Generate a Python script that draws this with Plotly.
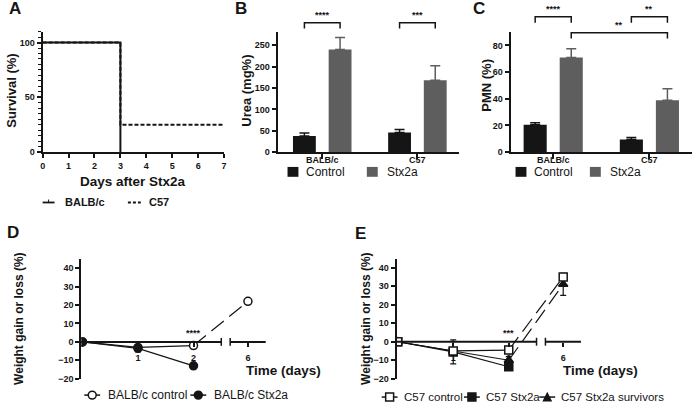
import plotly.graph_objects as go

W, H = 696, 408
FONT = "Liberation Sans"
INK = "#151515"
GRAY = "#5e5e5e"

# ---------------- data ----------------
# A: survival after Stx2a
surv_balb_days = [0, 3]
surv_balb = [100, 0]
surv_c57_days = [0, 3, 7]
surv_c57 = [100, 25, 25]
days_ticks_A = [0, 1, 2, 3, 4, 5, 6, 7]

# B / C: bars
strains = ["BALB/c", "C57"]
urea_control = [38, 46]
urea_control_err = [7, 7]
urea_stx = [240, 168]
urea_stx_err = [28, 34]
pmn_control = [20.5, 9.5]
pmn_control_err = [1.5, 1.5]
pmn_stx = [71, 39]
pmn_stx_err = [6.5, 8.5]

# D: BALB/c weight
time_days = [0, 1, 2, 6]
balb_ctrl_w = [0, -3, -2, 22]
balb_ctrl_err = [0, 1, 1, 1]
balb_stx_w = [0, -3.5, -13]
balb_stx_err = [0, 2, 1]

# E: C57 weight
c57_ctrl_w = [0, -5, -4.5, 35]
c57_ctrl_err = [0, 1.5, 2, 1.5]
c57_stx_w = [0, -5.5, -13.5]
c57_stx_err = [0, 6.5, 1.5]
c57_surv_w = [0, -5, -10, 31]
c57_surv_err = [0, 1.5, 2, 6]

time_tick_days = [1, 2, 6]

# ---------------- helpers ----------------
def px(x):
    return x / W


def py(y):
    return 1 - y / H


BREAK_LO = 2.5
GAP = 0.16
SEG2 = (5.68, 6.32)


def tpos(d):
    return d if d <= BREAK_LO else BREAK_LO + GAP + (d - SEG2[0])


def dmap(ax, v):
    d, r = ax["domain"], ax["range"]
    return d[0] + (v - r[0]) / (r[1] - r[0]) * (d[1] - d[0])


tickfont = dict(family=FONT, size=9, color=INK, weight="bold")


def axis(**kw):
    d = dict(showline=True, linecolor=INK, linewidth=2, ticks="outside", ticklen=4,
             tickwidth=1.5, tickcolor=INK, showgrid=False, zeroline=False,
             tickfont=tickfont, fixedrange=True)
    d.update(kw)
    return d


BARGAP, GROUPGAP = 0.25, 0.36
OFF = (1 - BARGAP) / 4

xA = axis(domain=[px(40), px(223)], range=[0, 7], tickvals=days_ticks_A, anchor="y")
yA = axis(domain=[py(154), py(32)], range=[0, 110], tickvals=[0, 50, 100], anchor="x",
          minor=dict(dtick=5, ticklen=2.5, tickwidth=1, ticks="outside", tickcolor=INK))
xB = axis(domain=[px(277), px(460)], type="category", range=[-0.469, 1.4375], anchor="y2", ticklen=5,
          showticklabels=False)
yB = axis(domain=[py(154), py(32)], range=[0, 282], tickvals=[0, 50, 100, 150, 200, 250], anchor="x2")
xC = axis(domain=[px(512), px(695)], type="category", range=[-0.443, 1.443], anchor="y3", ticklen=5,
          showticklabels=False)
yC = axis(domain=[py(154), py(32)], range=[0, 90.4], tickvals=[0, 20, 40, 60, 80], anchor="x3")
yD = axis(domain=[py(384), py(262)], range=[-20.3, 45.1], tickvals=[-20, -10, 0, 10, 20, 30, 40], anchor="x4")
yE = axis(domain=[py(384), py(262)], range=[-20.3, 44.8], tickvals=[-20, -10, 0, 10, 20, 30, 40], anchor="x5")
xD = axis(domain=[px(79), px(265)], range=[-0.02, 3.30], anchor="free", showline=False, ticklabelstandoff=3,
          tickvals=[tpos(d) for d in time_tick_days], ticktext=[str(d) for d in time_tick_days])
xE = axis(domain=[px(397), px(583)], range=[-0.02, 3.30], anchor="free", showline=False, ticklabelstandoff=3,
          tickvals=[tpos(d) for d in time_tick_days], ticktext=[str(d) for d in time_tick_days])
xD["position"] = dmap(yD, 0)
xE["position"] = dmap(yE, 0)

fig = go.Figure()

# ---------------- A ----------------
fig.add_trace(go.Scatter(x=surv_c57_days, y=surv_c57, mode="lines", line=dict(color=INK, width=2, dash="4px,2px", shape="hv"),
                         xaxis="x", yaxis="y", showlegend=False))
fig.add_trace(go.Scatter(x=surv_balb_days, y=surv_balb, mode="lines", line=dict(color=INK, width=2, shape="hv"),
                         xaxis="x", yaxis="y", showlegend=False))

# ---------------- B / C bars ----------------
def bars(xa, ya, ctrl, ctrl_e, stx, stx_e):
    fig.add_trace(go.Bar(x=strains, y=ctrl, marker=dict(color=INK, line=dict(width=0)),
                         error_y=dict(type="data", array=ctrl_e, arrayminus=[0] * len(ctrl_e), symmetric=False,
                                      color=INK, thickness=1.5, width=5),
                         xaxis=xa, yaxis=ya, showlegend=False))
    fig.add_trace(go.Bar(x=strains, y=stx, marker=dict(color=GRAY, line=dict(width=0)),
                         error_y=dict(type="data", array=stx_e, arrayminus=[0] * len(stx_e), symmetric=False,
                                      color=GRAY, thickness=1.5, width=5),
                         xaxis=xa, yaxis=ya, showlegend=False))


bars("x2", "y2", urea_control, urea_control_err, urea_stx, urea_stx_err)
bars("x3", "y3", pmn_control, pmn_control_err, pmn_stx, pmn_stx_err)

# ---------------- D / E lines ----------------
def weight_series(xa, ya, vals, errs, symbol, fill, n_solid=3):
    xs = [tpos(d) for d in time_days[:len(vals)]]
    fig.add_trace(go.Scatter(x=xs[:n_solid], y=vals[:n_solid], mode="lines", line=dict(color=INK, width=1.2),
                             xaxis=xa, yaxis=ya, showlegend=False))
    if len(vals) > n_solid:
        fig.add_trace(go.Scatter(x=xs[n_solid - 1:], y=vals[n_solid - 1:], mode="lines",
                                 line=dict(color=INK, width=1.2, dash="16px,7px"),
                                 xaxis=xa, yaxis=ya, showlegend=False))
    return dict(x=xs, y=vals, errs=errs, symbol=symbol, fill=fill, xa=xa, ya=ya)


series = [
    weight_series("x4", "y4", balb_ctrl_w, balb_ctrl_err, "circle", "white"),
    weight_series("x4", "y4", balb_stx_w, balb_stx_err, "circle", INK),
    weight_series("x5", "y5", c57_stx_w, c57_stx_err, "square", INK),
    weight_series("x5", "y5", c57_surv_w, c57_surv_err, "triangle-up", INK),
    weight_series("x5", "y5", c57_ctrl_w, c57_ctrl_err, "square", "white"),
]
for s in series:
    fig.add_trace(go.Scatter(x=s["x"], y=s["y"], mode="markers",
                             marker=dict(symbol=s["symbol"], size=8, color=s["fill"], line=dict(color=INK, width=1.5)),
                             error_y=dict(type="data", array=s["errs"], color=INK, thickness=1.2, width=3),
                             xaxis=s["xa"], yaxis=s["ya"], showlegend=False))

shapes = []
annotations = []


def line_paper(x0, y0, x1, y1, w=1.5, dash=None):
    d = dict(type="line", xref="paper", yref="paper", x0=x0, y0=y0, x1=x1, y1=y1,
             line=dict(color=INK, width=w))
    if dash:
        d["line"]["dash"] = dash
    shapes.append(d)


def text(x, y, s, size=12, bold=False, xanchor="center", yanchor="middle", angle=0):
    f = dict(family=FONT, size=size, color=INK)
    if bold:
        f["weight"] = "bold"
    annotations.append(dict(xref="paper", yref="paper", x=x, y=y, text=s, showarrow=False, font=f,
                            xanchor=xanchor, yanchor=yanchor, textangle=angle))


# category labels for B / C
for xax, yax in [(xB, yB), (xC, yC)]:
    for i, name in enumerate(strains):
        text(dmap(xax, i), dmap(yax, 0) - 8 / H, name, size=9, bold=True)

# broken x axes in D / E
for xax, yax in [(xD, yD), (xE, yE)]:
    y0p = dmap(yax, 0)
    segs = [(xax["range"][0], BREAK_LO), (BREAK_LO + GAP, xax["range"][1])]
    for a, b in segs:
        line_paper(dmap(xax, a), y0p, dmap(xax, b), y0p, w=2)
    for cap in (BREAK_LO, BREAK_LO + GAP):
        line_paper(dmap(xax, cap), y0p - 4 / H, dmap(xax, cap), y0p + 4 / H, w=1.5)

# significance brackets
def bracket(xax, yax, a, b, yv, label):
    x0, x1, yp = dmap(xax, a), dmap(xax, b), dmap(yax, yv)
    leg = 6 / H
    shapes.append(dict(type="path", xref="paper", yref="paper",
                       path=f"M{x0},{yp - leg} L{x0},{yp} L{x1},{yp} L{x1},{yp - leg}",
                       line=dict(color=INK, width=1.5)))
    text((x0 + x1) / 2, yp + 1 / H, label, size=9, bold=True, yanchor="bottom")


bracket(xB, yB, 0 - OFF, 0 + OFF, 303, "****")
bracket(xB, yB, 1 - OFF, 1 + OFF, 303, "***")
bracket(xC, yC, 0 - OFF, 0 + OFF, 101.5, "****")
bracket(xC, yC, 1 - OFF, 1 + OFF, 101.5, "**")
bracket(xC, yC, 0 + OFF, 1 + OFF, 89.6, "**")

# stars in D / E
text(dmap(xD, tpos(2)), dmap(yD, 0) + 2 / H, "****", size=9, bold=True, yanchor="bottom")
text(dmap(xE, tpos(2)), dmap(yE, 0) + 2 / H, "***", size=9, bold=True, yanchor="bottom")

# panel letters
for s, x, y in [("A", 4, 9), ("B", 232, 9), ("C", 472, 9), ("D", 2, 235), ("E", 353, 236)]:
    text(px(x), py(y), s, size=17, bold=True, xanchor="left")

# axis titles
text(px(9), py(92), "Survival (%)", size=13, bold=True, angle=-90)
text(px(246), py(92), "Urea (mg%)", size=13, bold=True, angle=-90)
text(px(488), py(86), "PMN (%)", size=13, bold=True, angle=-90)
text(px(16), py(323), "Weight gain or loss (%)", size=12, bold=True, angle=-90)
text(px(366), py(323), "Weight gain or loss (%)", size=12, bold=True, angle=-90)
text(px(131), py(184), "Days after Stx2a", size=13.5, bold=True)
text(px(243), py(375), "Time (days)", size=13.5, bold=True, xanchor="left")
text(px(563), py(375), "Time (days)", size=13.5, bold=True, xanchor="left")

# legend A
line_paper(px(40), py(205), px(52), py(205), w=1.8)
line_paper(px(46), py(202), px(46), py(205), w=1)
text(px(61), py(205), "BALB/c", size=11, bold=True, xanchor="left")
line_paper(px(126), py(205), px(139), py(205), w=1.8, dash="3px,2px")
text(px(145), py(205), "C57", size=11, bold=True, xanchor="left")

# legends B / C
def sq(x0, y0, x1, y1, color):
    shapes.append(dict(type="rect", xref="paper", yref="paper", x0=px(x0), x1=px(x1), y0=py(y1), y1=py(y0),
                       fillcolor=color, line=dict(width=0)))


for cx, sx in [(287, 367), (517, 592)]:
    sq(cx, 169, cx + 11, 179, INK)
    text(px(cx + 17), py(174), "Control", size=12, xanchor="left")
    sq(sx, 169, sx + 11, 179, GRAY)
    text(px(sx + 18), py(174), "Stx2a", size=12, xanchor="left")

# legends D / E
def leg_marker(cx, cy, kind, fill):
    line_paper(px(cx - 8), py(cy), px(cx + 8), py(cy), w=1.5)
    r = 4
    if kind == "circle":
        shapes.append(dict(type="circle", xref="paper", yref="paper", x0=px(cx - r), x1=px(cx + r),
                           y0=py(cy + r), y1=py(cy - r), fillcolor=fill, line=dict(color=INK, width=1.5)))
    elif kind == "square":
        shapes.append(dict(type="rect", xref="paper", yref="paper", x0=px(cx - r), x1=px(cx + r),
                           y0=py(cy + r), y1=py(cy - r), fillcolor=fill, line=dict(color=INK, width=1.5)))
    else:
        shapes.append(dict(type="path", xref="paper", yref="paper",
                           path=f"M{px(cx - r)},{py(cy + r)} L{px(cx + r)},{py(cy + r)} L{px(cx)},{py(cy - r)} Z",
                           fillcolor=fill, line=dict(color=INK, width=1.2)))


leg_marker(90, 400, "circle", "white")
text(px(104), py(400), "BALB/c control", size=12, xanchor="left")
leg_marker(197, 400, "circle", INK)
text(px(211), py(400), "BALB/c Stx2a", size=12, xanchor="left")
leg_marker(390, 402, "square", "white")
text(px(402), py(402), "C57 control", size=11.5, xanchor="left")
leg_marker(473, 402, "square", INK)
text(px(485), py(402), "C57 Stx2a", size=11.5, xanchor="left")
leg_marker(549, 402, "triangle", INK)
text(px(561), py(402), "C57 Stx2a survivors", size=11.5, xanchor="left")

fig.update_layout(
    width=W, height=H, margin=dict(l=0, r=0, t=0, b=0),
    paper_bgcolor="white", plot_bgcolor="white",
    barmode="group", bargap=BARGAP, bargroupgap=GROUPGAP,
    xaxis=xA, yaxis=yA, xaxis2=xB, yaxis2=yB, xaxis3=xC, yaxis3=yC,
    xaxis4=xD, yaxis4=yD, xaxis5=xE, yaxis5=yE,
    shapes=shapes, annotations=annotations,
    font=dict(family=FONT, color=INK),
)

fig.write_html("out.html", config={"displayModeBar": False},
               post_script="document.body.style.margin='0';document.body.style.overflow='hidden';")
